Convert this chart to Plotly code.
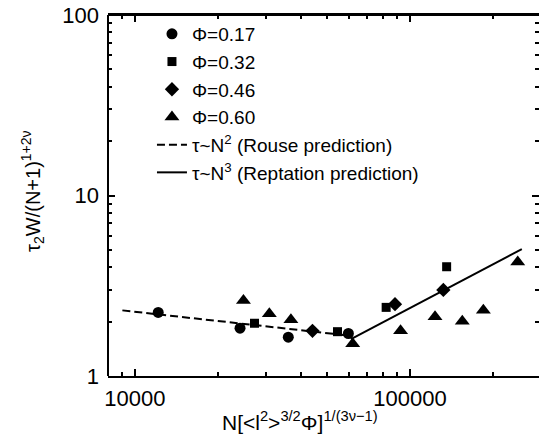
import plotly.graph_objects as go

# Data
phi017_x = [12150, 24100, 36100, 59700]
phi017_y = [2.25, 1.84, 1.64, 1.72]
phi032_x = [27200, 54500, 81900, 135900]
phi032_y = [1.96, 1.76, 2.40, 4.03]
phi046_x = [44200, 88200, 132200]
phi046_y = [1.78, 2.50, 3.00]
phi060_x = [24800, 30800, 36900, 61900, 92400, 123300, 154900, 184800, 246400]
phi060_y = [2.62, 2.21, 2.05, 1.51, 1.78, 2.13, 2.01, 2.31, 4.28]
rouse_x = [9000, 61000]
rouse_y = [2.31, 1.67]
rept_x = [61000, 255000]
rept_y = [1.60, 5.05]

x_ticks = [10000, 100000]
x_tick_text = ["10000", "100000"]
y_ticks = [1, 10, 100]
y_tick_text = ["1", "10", "100"]

FONT = "Liberation Sans, Arial, Helvetica, sans-serif"
FS = 22

fig = go.Figure()
marker_line = dict(width=0)
fig.add_trace(go.Scatter(x=phi017_x, y=phi017_y, mode="markers", name="Φ=0.17",
                         marker=dict(symbol="circle", size=11, color="black", line=marker_line)))
fig.add_trace(go.Scatter(x=phi032_x, y=phi032_y, mode="markers", name="Φ=0.32",
                         marker=dict(symbol="square", size=9, color="black", line=marker_line)))
fig.add_trace(go.Scatter(x=phi046_x, y=phi046_y, mode="markers", name="Φ=0.46",
                         marker=dict(symbol="diamond", size=11, color="black", line=marker_line)))
fig.add_trace(go.Scatter(x=phi060_x, y=phi060_y, mode="markers", name="Φ=0.60",
                         marker=dict(symbol="triangle-up", size=13, color="black", line=marker_line)))
fig.add_trace(go.Scatter(x=rouse_x, y=rouse_y, mode="lines",
                         name="τ~N<sup>2</sup> (Rouse prediction)",
                         line=dict(color="black", width=2, dash="8px,4px")))
fig.add_trace(go.Scatter(x=rept_x, y=rept_y, mode="lines",
                         name="τ~N<sup>3</sup> (Reptation prediction)",
                         line=dict(color="black", width=2)))

x_minor = [v * m for v in [1000, 10000, 100000] for m in range(2, 10)]
y_minor = [v * m for v in [1, 10] for m in range(2, 10)]

axis_common = dict(
    type="log", showgrid=False, zeroline=False, linecolor="black",
    linewidth=2, mirror="ticks", ticks="inside", ticklen=7, tickwidth=1.5,
    tickcolor="black", tickfont=dict(family=FONT, size=FS, color="black"),
    automargin=False,
)

fig.update_xaxes(
    **axis_common,
    showline=True,
    range=[3.902, 5.469],
    tickmode="array", tickvals=x_ticks, ticktext=x_tick_text,
    minor=dict(tickmode="array", tickvals=x_minor, ticks="inside", ticklen=4,
               tickwidth=1.5, tickcolor="black", showgrid=False),
    ticklabelstandoff=2,
)
fig.update_yaxes(
    **axis_common,
    showline=False,
    range=[0, 2],
    tickmode="array", tickvals=y_ticks, ticktext=y_tick_text,
    minor=dict(tickmode="array", tickvals=y_minor, ticks="inside", ticklen=4,
               tickwidth=1.5, tickcolor="black", showgrid=False),
    ticklabelstandoff=8,
)

# left and top frame lines (the right one lies outside the cropped reference)
fig.add_shape(type="line", xref="paper", yref="paper", x0=0, x1=0, y0=0, y1=1,
              line=dict(color="black", width=2), layer="above")
fig.add_shape(type="line", xref="paper", yref="paper", x0=0, x1=1, y0=1, y1=1,
              line=dict(color="black", width=2), layer="above")

# axis titles placed as annotations (the reference titles are slightly off-centre)
fig.add_annotation(text="N[&lt;l<sup>2</sup>&gt;<sup>3/2</sup>Φ]<sup>1/(3ν−1)</sup>",
                   xref="paper", yref="paper", x=0.445, y=-0.125,
                   xanchor="center", yanchor="middle", showarrow=False,
                   font=dict(family=FONT, size=21, color="black"))
fig.add_annotation(text="τ<sub>2</sub>W/(N+1)<sup>1+2ν</sup>",
                   xref="paper", yref="paper", x=-0.174, y=0.51,
                   xanchor="center", yanchor="middle", textangle=-90, showarrow=False,
                   font=dict(family=FONT, size=20, color="black"))

fig.update_layout(
    width=539, height=443,
    margin=dict(l=108, r=0, t=15, b=67),
    paper_bgcolor="white", plot_bgcolor="white",
    font=dict(family=FONT, size=FS, color="black"),
    legend=dict(x=0.102, y=1.0, xanchor="left", yanchor="top",
                bgcolor="rgba(0,0,0,0)", borderwidth=0,
                font=dict(family=FONT, size=19, color="black"),
                tracegroupgap=0, itemwidth=30),
    showlegend=True,
)

fig.write_html("out.html", config={"displayModeBar": False},
               post_script="document.body.style.margin='0';document.body.style.overflow='hidden';")
